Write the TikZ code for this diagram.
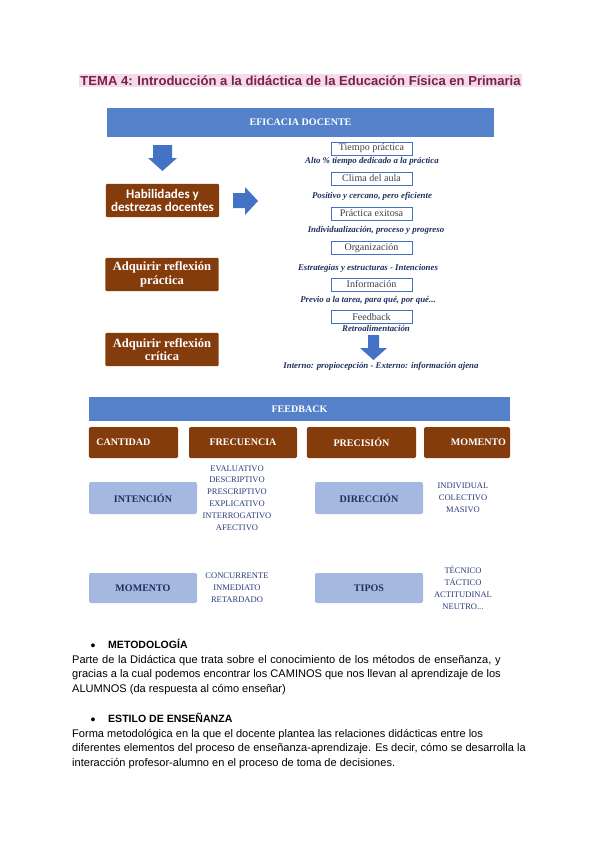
\documentclass[tikz,border=0pt]{standalone}
\usepackage{fontspec}
\setmainfont{Liberation Sans}
\newfontfamily\cambria{Liberation Serif}
\newfontfamily\calibri{Carlito}
\usepackage{xcolor}
\usetikzlibrary{positioning}
\definecolor{barblue}{HTML}{5581CA}
\definecolor{arrowblue}{HTML}{4472C4}
\definecolor{brownbox}{HTML}{843C0C}
\definecolor{softblue}{HTML}{A4B8E0}
\definecolor{navy}{HTML}{1F2F5E}
\definecolor{listblue}{HTML}{2A3D7C}
\definecolor{titlered}{HTML}{7B1F4F}
\definecolor{titlepink}{HTML}{F3DCE6}
\begin{document}
\begin{tikzpicture}[
  x=0.35mm,y=-0.35mm,
  on grid,
  head bar/.style={fill=barblue,text=white,inner sep=0pt,font=\cambria\bfseries\fontsize{10}{12}\selectfont},
  brown box/.style={fill=brownbox,text=white,align=center,inner sep=0pt,minimum width=39.6mm,minimum height=11.6mm,rounded corners=1pt},
  item/.style={draw=arrowblue,line width=0.7pt,fill=white,inner sep=0pt,minimum width=28.4mm,minimum height=4.55mm,text=black!75,font=\cambria\fontsize{10}{10}\selectfont},
  note/.style={text=navy,inner sep=0pt,font=\cambria\bfseries\itshape\fontsize{8.8}{10}\selectfont},
  category/.style={fill=brownbox,text=white,inner sep=0pt,minimum height=10.85mm,rounded corners=1.5pt,font=\cambria\bfseries\fontsize{10}{12}\selectfont},
  soft box/.style={fill=softblue,text=navy,inner sep=0pt,minimum width=37.8mm,rounded corners=2pt,font=\cambria\bfseries\fontsize{10}{12}\selectfont},
  word list/.style={align=center,text=listblue,inner sep=0pt,font=\cambria\fontsize{8.5}{11.8}\selectfont},
  block arrow/.style={fill=arrowblue},
  body/.style={anchor=north west,align=left,inner sep=0pt,font=\fontsize{11}{14.5}\selectfont},
  heading/.style={anchor=west,inner sep=0pt,font=\bfseries\fontsize{10.5}{12}\selectfont},
  bullet/.style={inner sep=0pt,font=\fontsize{14}{14}\selectfont}]
  \fill[white] (0,0) rectangle (600,848);
  % title
  \node[fill=titlepink,text=titlered,inner sep=1.5pt,font=\bfseries\fontsize{13}{15}\selectfont] (title) at (300.5,80.5)
    {TEMA 4: Introducción a la didáctica de la Educación Física en Primaria};
  % ed-eficacia docente h-habilidades rp-reflexion practica rc-reflexion critica
  \node[head bar,minimum width=135.5mm,minimum height=10.2mm] (ed) at (300.5,122.5) {EFICACIA DOCENTE};
  \node[brown box,font=\calibri\bfseries\fontsize{13}{13.5}\selectfont] (h) at (162.5,200.5) {Habilidades y\\destrezas docentes};
  \node[brown box,font=\cambria\bfseries\fontsize{12.5}{13.5}\selectfont] (rp) at (162,274.5) {Adquirir reflexión\\práctica};
  \node[brown box,font=\cambria\bfseries\fontsize{12.5}{13.5}\selectfont] (rc) at (162,349.5) {Adquirir reflexión\\crítica};
  % block arrows
  \fill[block arrow] (153,145) -- (172,145) -- (172,158) -- (177,158) -- (162.5,171) -- (148,158) -- (153,158) -- cycle;
  \fill[block arrow] (233,193) -- (245,193) -- (245,187) -- (258,201) -- (245,215) -- (245,208) -- (233,208) -- cycle;
  \fill[block arrow] (368,335) -- (379,335) -- (379,348) -- (387,348) -- (373.5,360) -- (360,348) -- (368,348) -- cycle;
  % t-tarjeta n-nota
  \node[item] (t1) at (371.5,148.5) {Tiempo práctica};
  \node[note] (n1) at (372,161) {Alto \% tiempo dedicado a la práctica};
  \node[item] (t2) at (371.5,178.5) {Clima del aula};
  \node[note] (n2) at (372,196) {Positivo y cercano, pero eficiente};
  \node[item] (t3) at (371.5,213.5) {Práctica exitosa};
  \node[note] (n3) at (376,230) {Individualización, proceso y progreso};
  \node[item] (t4) at (371.5,248) {Organización};
  \node[note] (n4) at (368,268) {Estrategias y estructuras - Intenciones};
  \node[item] (t5) at (371.5,284.5) {Información};
  \node[note] (n5) at (368,300) {Previo a la tarea, para qué, por qué...};
  \node[item] (t6) at (371.5,317) {Feedback};
  \node[note] (n6) at (376,328.5) {Retroalimentación};
  \node[note] (n7) at (381,366) {Interno: propiocepción - Externo: información ajena};
  % feedback
  \node[head bar,minimum width=147.4mm,minimum height=8.4mm] (fb) at (299.5,409) {FEEDBACK};
  \node[category,minimum width=31.2mm,text width=26mm,align=left] (cant) at (133.5,442.5) {CANTIDAD};
  \node[category,minimum width=37.8mm] (frec) at (243,442.5) {FRECUENCIA};
  \node[category,minimum width=38.2mm] (prec) at (361.5,442.5) {PRECISIÓN};
  \node[category,minimum width=30.1mm,text width=27.3mm,align=right] (mom) at (467,442.5) {MOMENTO};
  \node[soft box,minimum height=11.2mm] (int) at (143,498) {INTENCIÓN};
  \node[word list,right=32.9mm of int] (l1) {EVALUATIVO\\DESCRIPTIVO\\PRESCRIPTIVO\\EXPLICATIVO\\INTERROGATIVO\\AFECTIVO};
  \node[soft box,minimum height=11.2mm] (dir) at (369,498) {DIRECCIÓN};
  \node[word list,right=32.9mm of dir] (l2) {INDIVIDUAL\\COLECTIVO\\MASIVO};
  \node[soft box,minimum height=10.5mm,below=31.5mm of int] (momb) {MOMENTO};
  \node[word list,right=32.9mm of momb] (l3) {CONCURRENTE\\INMEDIATO\\RETARDADO};
  \node[soft box,minimum height=10.5mm,below=31.5mm of dir] (tip) {TIPOS};
  \node[word list,right=32.9mm of tip] (l4) {TÉCNICO\\TÁCTICO\\ACTITUDINAL\\NEUTRO...};
  % texto
  \node[bullet] (b1) at (93,647) {•};
  \node[heading] (met) at (108,644) {METODOLOGÍA};
  \node[body,text width=150mm,align=justify] (p1) at (72,655) {\tolerance=10000\hyphenpenalty=10000
    Parte de la Didáctica que trata sobre el conocimiento de los métodos de enseñanza, y\linebreak
    gracias a la cual podemos encontrar los CAMINOS que nos llevan al aprendizaje de los\linebreak
    ALUMNOS (da respuesta al cómo enseñar)};
  \node[bullet] (b2) at (93,721) {•};
  \node[heading] (est) at (108,718) {ESTILO DE ENSEÑANZA};
  \node[body] (p2) at (72,729) {Forma metodológica en la que el docente plantea las relaciones didácticas entre los\\
    diferentes elementos del proceso de enseñanza-aprendizaje. Es decir, cómo se desarrolla la\\
    interacción profesor-alumno en el proceso de toma de decisiones.};
\end{tikzpicture}
\end{document}
